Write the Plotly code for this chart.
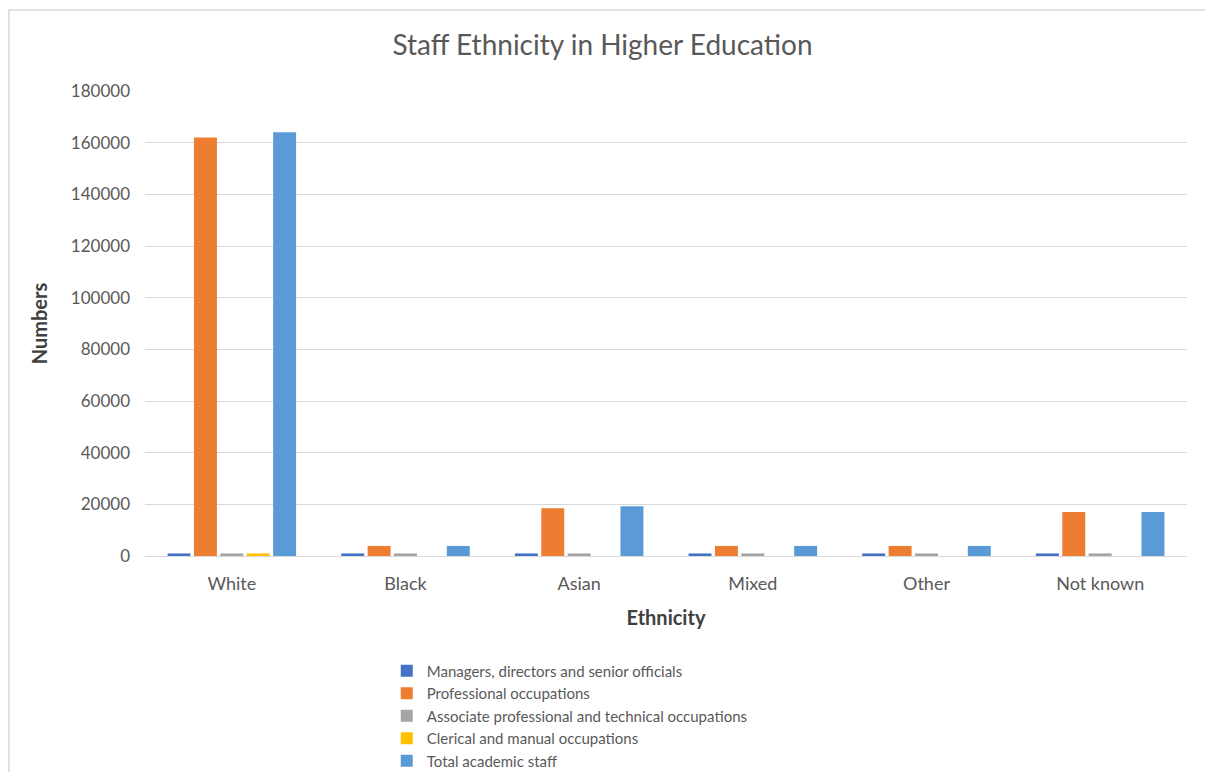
import plotly.graph_objects as go

categories = ["White", "Black", "Asian", "Mixed", "Other", "Not known"]
managers = [1000, 1000, 1000, 1000, 1000, 1000]
professional = [162000, 3900, 18500, 3900, 3900, 17000]
associate = [1000, 1000, 1000, 1000, 1000, 1000]
clerical = [1000, 0, 0, 0, 0, 0]
total_academic = [164000, 3900, 19300, 3900, 3900, 17000]

series = [
    ("Managers, directors and senior officials", managers, "#4472C4"),
    ("Professional occupations", professional, "#ED7D31"),
    ("Associate professional and technical occupations", associate, "#A5A5A5"),
    ("Clerical and manual occupations", clerical, "#FFC000"),
    ("Total academic staff", total_academic, "#5B9BD5"),
]

font_family = "Lato, 'Open Sans', sans-serif"
fig = go.Figure()
for name, vals, color in series:
    fig.add_trace(go.Bar(name=name, x=categories, y=vals, marker=dict(color=color, line=dict(width=0))))

fig.update_layout(
    width=1205, height=772,
    barmode="group", bargap=0.24, bargroupgap=0.13,
    plot_bgcolor="white", paper_bgcolor="white",
    margin=dict(l=145, r=18, t=91, b=216, autoexpand=False),
    font=dict(family=font_family, color="#595959", size=15),
    title=dict(text="Staff Ethnicity in Higher Education", x=0.5, xanchor="center",
               y=1 - 45 / 772, yanchor="middle", font=dict(size=28, color="#595959")),
    xaxis=dict(title=dict(text="<b>Ethnicity</b>", font=dict(size=20, color="#404040"), standoff=18),
               showline=True, linecolor="#d9d9d9", linewidth=1, ticks="", tickfont=dict(size=18),
               ticklabelstandoff=11),
    yaxis=dict(title=dict(text="<b>Numbers</b>", font=dict(size=20, color="#404040"), standoff=17),
               range=[0, 180000], dtick=20000, gridcolor="#d9d9d9", gridwidth=1,
               zeroline=False, tickformat="d", ticks="", tickfont=dict(size=17),
               ticklabelstandoff=14),
    legend=dict(orientation="v", x=0.232, xanchor="left", y=-0.212, yanchor="top",
                font=dict(size=15, color="#595959"), itemwidth=30, tracegroupgap=0,
                bgcolor="rgba(0,0,0,0)"),
    showlegend=True,
    shapes=[dict(type="rect", xref="paper", yref="paper",
                 x0=(9 - 145) / 1042, x1=(1240 - 145) / 1042,
                 y0=(556 - 800) / 465, y1=(556 - 10) / 465,
                 line=dict(color="#d9d9d9", width=1.5), layer="below")],
)

fig.write_html("out.html")
